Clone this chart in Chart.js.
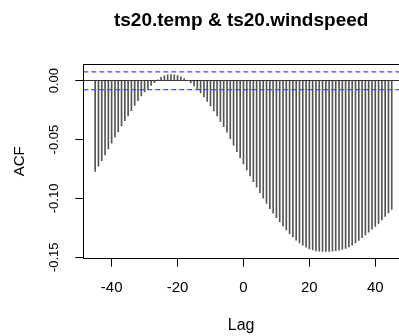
<!DOCTYPE html>
<html>
<head>
<meta charset="utf-8">
<script src="https://cdn.jsdelivr.net/npm/chart.js@4"></script>
<style>
html, body { margin: 0; padding: 0; background: #fff; overflow: hidden; }
</style>
</head>
<body>
<canvas id="grafico" width="399" height="336"></canvas>
<script>
const titulo = "ts20.temp & ts20.windspeed";
const lags = [
    -45, -44, -43, -42, -41, -40, -39, -38, -37, -36,
    -35, -34, -33, -32, -31, -30, -29, -28, -27, -26,
    -25, -24, -23, -22, -21, -20, -19, -18, -17, -16,
    -15, -14, -13, -12, -11, -10, -9, -8, -7, -6,
    -5, -4, -3, -2, -1, 0, 1, 2, 3, 4,
    5, 6, 7, 8, 9, 10, 11, 12, 13, 14,
    15, 16, 17, 18, 19, 20, 21, 22, 23, 24,
    25, 26, 27, 28, 29, 30, 31, 32, 33, 34,
    35, 36, 37, 38, 39, 40, 41, 42, 43, 44, 45
];
const acf = [
    -0.0770, -0.0725, -0.0680, -0.0630, -0.0580, -0.0530, -0.0480, -0.0435, -0.0385, -0.0340,
    -0.0300, -0.0255, -0.0210, -0.0170, -0.0130, -0.0095, -0.0067, -0.0040, -0.0017, 0.0008,
    0.0028, 0.0042, 0.0050, 0.0053, 0.0050, 0.0043, 0.0033, 0.0018, 0.0002, -0.0018,
    -0.0045, -0.0072, -0.0103, -0.0137, -0.0175, -0.0215, -0.0257, -0.0300, -0.0345, -0.0390,
    -0.0437, -0.0492, -0.0548, -0.0603, -0.0655, -0.0707, -0.0758, -0.0808, -0.0858, -0.0905,
    -0.0952, -0.0998, -0.1043, -0.1087, -0.1125, -0.1163, -0.1200, -0.1235, -0.1268, -0.1300,
    -0.1328, -0.1355, -0.1378, -0.1398, -0.1415, -0.1428, -0.1438, -0.1445, -0.1449, -0.1451,
    -0.1451, -0.1450, -0.1448, -0.1444, -0.1440, -0.1434, -0.1425, -0.1412, -0.1396, -0.1377,
    -0.1356, -0.1334, -0.1310, -0.1286, -0.1261, -0.1237, -0.1212, -0.1182, -0.1153, -0.1123, -0.1093
];
const bandaConf = 0.0075;   // limite de confianza (+/-)
const limitesX = [-48.6, 47.2];
const limitesY = [-0.1512, 0.0142];
const ticksX = [-40, -20, 0, 20, 40];
const ticksY = [-0.15, -0.10, -0.05, 0];

Chart.defaults.font.family = "'Liberation Sans', Arial, sans-serif";
Chart.defaults.color = "#000";

// barras verticales para cada lag
const barras = lags.map((l, i) => ({ x: l, y: acf[i] }));

// lineas de confianza azules
function lineaConf(valor) {
    return {
        type: "line",
        xAxisID: "x",
        yAxisID: "y",
        data: [{ x: limitesX[0], y: valor }, { x: limitesX[1], y: valor }],
        borderColor: "#4a4aff",
        borderWidth: 1.2,
        borderDash: [5, 3],
        pointRadius: 0,
        fill: false,
        order: 1
    };
}

const config = {
    type: "bar",
    data: {
        datasets: [
            {
                type: "bar",
                xAxisID: "x",
                yAxisID: "y",
                data: barras,
                backgroundColor: "#555",
                barThickness: 1,
                order: 2
            },
            lineaConf(bandaConf),
            lineaConf(-bandaConf)
        ]
    },
    options: {
        responsive: false,
        animation: false,
        devicePixelRatio: 1,
        layout: { padding: 0 },
        plugins: {
            legend: { display: false },
            tooltip: { enabled: false },
            title: {
                display: true,
                text: titulo,
                fullSize: false,
                color: "#000",
                font: { size: 19, weight: "bold" },
                padding: { top: 9, bottom: 0 }
            }
        },
        scales: {
            x: {
                type: "linear",
                position: "bottom",
                min: limitesX[0],
                max: limitesX[1],
                offset: false,
                afterBuildTicks: (s) => { s.ticks = ticksX.map(v => ({ value: v })); },
                afterFit: (s) => { s.height = 77.3; },
                grid: { offset: false, drawOnChartArea: false, tickLength: 8, tickColor: "#000" },
                border: { display: true, color: "#000", width: 1 },
                ticks: { font: { size: 15 }, padding: 12.5, autoSkip: false, maxRotation: 0 },
                title: { display: true, text: "Lag", font: { size: 16 }, padding: { top: 0, bottom: 1 } }
            },
            x2: {
                type: "linear",
                position: "top",
                min: 0,
                max: 1,
                grid: { display: false, drawTicks: false },
                ticks: { display: false },
                border: { display: true, color: "#000", width: 1 },
                afterFit: (s) => { s.height = 32.2; }
            },
            y: {
                type: "linear",
                position: "left",
                min: limitesY[0],
                max: limitesY[1],
                afterBuildTicks: (s) => { s.ticks = ticksY.map(v => ({ value: v })); },
                afterFit: (s) => { s.width = 83.3; },
                grid: {
                    color: (c) => (c.tick && c.tick.value === 0) ? "#333" : "rgba(0,0,0,0)",
                    tickColor: "#000",
                    tickLength: 8
                },
                border: { display: true, color: "#000", width: 1 },
                ticks: {
                    font: { size: 13 },
                    padding: 6.5,
                    minRotation: 90,
                    maxRotation: 90,
                    crossAlign: "center",
                    autoSkip: false,
                    callback: (v) => Number(v).toFixed(2)
                },
                title: { display: true, text: "ACF", font: { size: 15 }, padding: { top: 10.5, bottom: 0 } }
            }
        }
    }
};

const chart = new Chart(document.getElementById("grafico"), config);
</script>
</body>
</html>
